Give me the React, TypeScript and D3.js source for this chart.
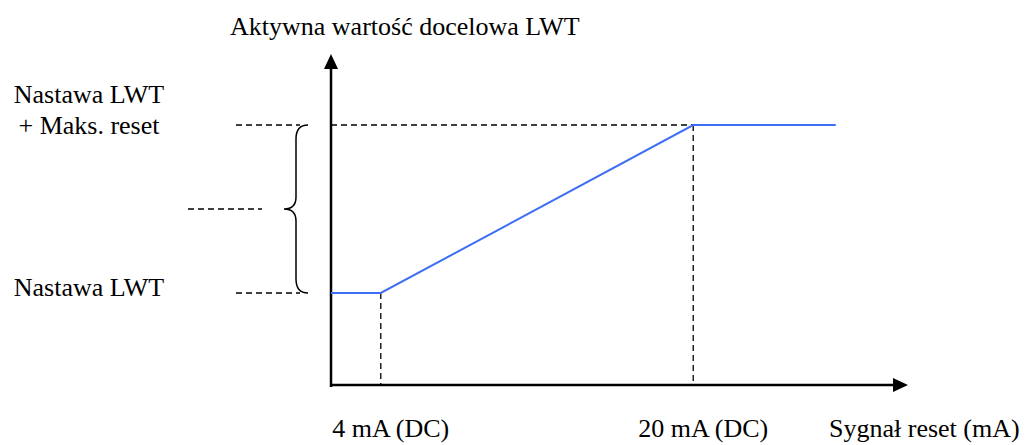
import { useRef, useEffect } from 'react';
import * as d3 from 'd3';

// reset signal in mA vs. active LWT target (0 = setpoint, 1 = setpoint + max reset)
const signal = [1.45, 4, 20, 27.3];
const target = [0, 0, 1, 1];
const xTicks = [4, 20];
const xTickLabels = ['4 mA (DC)', '20 mA (DC)'];
const yLabels = [['Nastawa LWT'], ['Nastawa LWT', '+ Maks. reset']];
const yLevels = [0, 1];
const xTitle = 'Sygnał reset (mA)';
const yTitle = 'Aktywna wartość docelowa LWT';

const App = () => {
  const ref = useRef<SVGSVGElement>(null);

  useEffect(() => {
    if (!ref.current) return;
    const svg = d3.select(ref.current);
    svg.selectAll('*').remove();

    const font = '"Liberation Serif", "Times New Roman", serif';
    const x = d3.scaleLinear().domain([1.45, 31]).range([331, 908]);
    const y = d3.scaleLinear().domain([0, 1]).range([293, 125]);
    const x0 = x(1.45);
    const yBase = 385;

    // dashed guides
    const dash = (x1: number, y1: number, x2: number, y2: number) =>
      svg.append('line')
        .attr('x1', x1).attr('y1', y1).attr('x2', x2).attr('y2', y2)
        .style('stroke', '#000').style('stroke-width', 1.3)
        .style('stroke-dasharray', '6,4');

    xTicks.forEach((t, i) => {
      dash(x(t), y(target[i + 1]), x(t), yBase);
    });
    dash(x0, y(1), x(20), y(1));
    yLevels.forEach(l => dash(236, y(l), 300, y(l)));
    dash(188, (y(0) + y(1)) / 2, 262, (y(0) + y(1)) / 2);

    // brace
    const top = y(1), bot = y(0), mid = (top + bot) / 2;
    const bx = 296, ex = 308, tx = 284;
    svg.append('path')
      .attr('d', `M${ex},${top} Q${bx},${top} ${bx},${top + 14} L${bx},${mid - 12} Q${bx},${mid} ${tx},${mid}`
        + ` Q${bx},${mid} ${bx},${mid + 12} L${bx},${bot - 14} Q${bx},${bot} ${ex},${bot}`)
      .style('fill', 'none').style('stroke', '#000').style('stroke-width', 1.5);

    // axes
    svg.append('line')
      .attr('x1', x0).attr('y1', yBase + 2).attr('x2', x0).attr('y2', 66)
      .style('stroke', '#000').style('stroke-width', 2.5);
    svg.append('path')
      .attr('d', `M${x0},54 L${x0 + 7},69 L${x0 - 7},69 Z`).style('fill', '#000');
    svg.append('line')
      .attr('x1', x0).attr('y1', yBase).attr('x2', 896).attr('y2', yBase)
      .style('stroke', '#000').style('stroke-width', 2.5);
    svg.append('path')
      .attr('d', `M908,${yBase} L893,${yBase - 7} L893,${yBase + 7} Z`).style('fill', '#000');

    // reset curve
    const line = d3.line<number>()
      .x((_, i) => x(signal[i]))
      .y(d => y(d));
    svg.append('path')
      .datum(target)
      .attr('d', line)
      .style('fill', 'none').style('stroke', '#3d6ef5').style('stroke-width', 2);

    // labels
    const text = (s: string, px: number, py: number, anchor = 'start') =>
      svg.append('text')
        .attr('x', px).attr('y', py)
        .attr('text-anchor', anchor)
        .style('font-family', font).style('font-size', '26px')
        .text(s);

    text(yTitle, 230, 35);
    xTickLabels.forEach((s, i) => text(s, x(xTicks[i]) + 10, 437, 'middle'));
    text(xTitle, 829, 437);
    yLabels.forEach((lines, i) => {
      const yy = y(yLevels[i]);
      if (lines.length === 1) text(lines[0], 89, yy + 3, 'middle');
      else {
        text(lines[0], 89, yy - 22, 'middle');
        text(lines[1], 89, yy + 9, 'middle');
      }
    });
  }, []);

  return (
    <svg ref={ref} width={1026} height={445}
      style={{ position: 'absolute', left: 0, top: 0, background: '#fff' }} />
  );
};

export default App;
